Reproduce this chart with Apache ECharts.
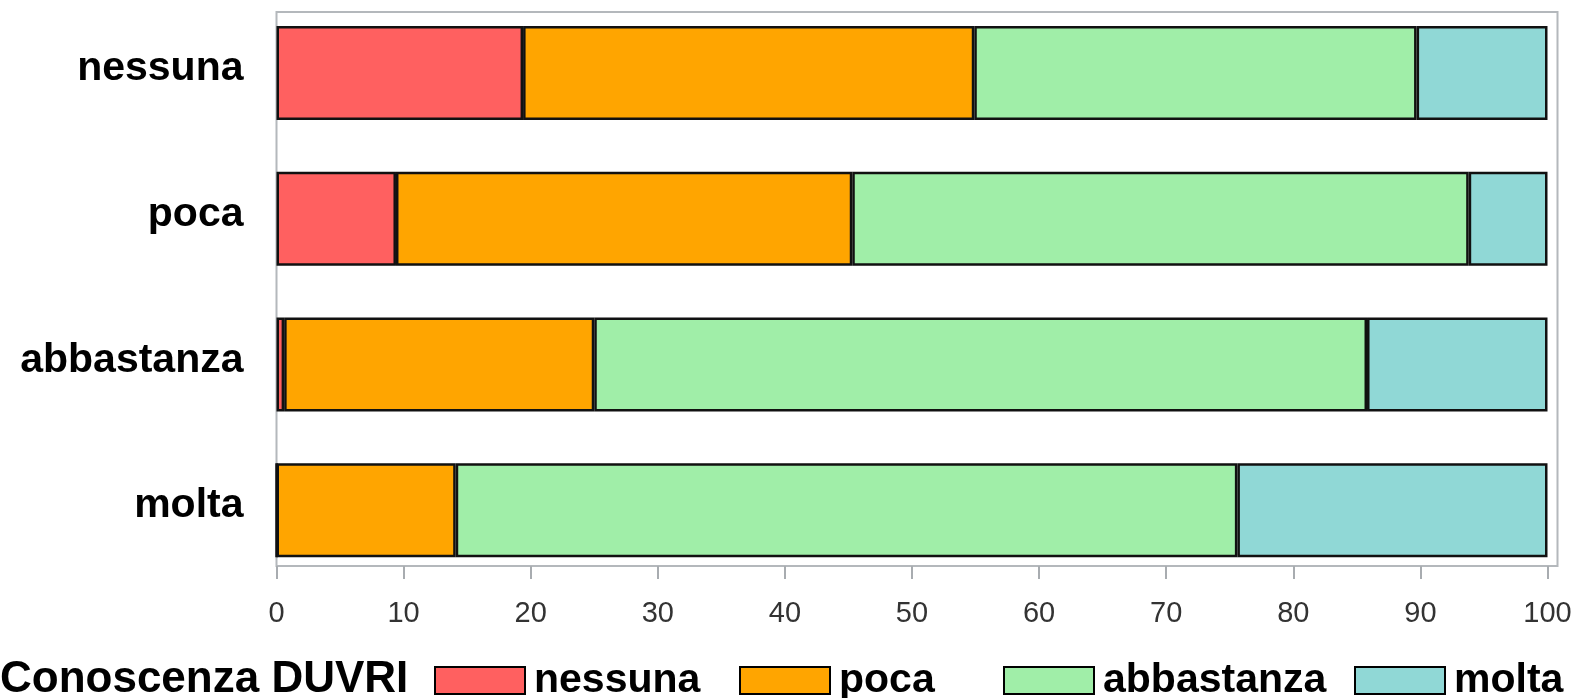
<!DOCTYPE html>
<html>
<head>
<meta charset="utf-8">
<script src="https://cdn.jsdelivr.net/npm/echarts@6/dist/echarts.min.js"></script>
<style>
html,body{margin:0;padding:0;background:#fff;}
#chart{width:1581px;height:698px;}
</style>
</head>
<body>
<div id="chart"></div>
<script>
// Categories (y axis, top to bottom)
const categories = ['nessuna', 'poca', 'abbastanza', 'molta'];
// Series (legend groups)
const seriesNames = ['nessuna', 'poca', 'abbastanza', 'molta'];
const valNessuna    = [19.4, 9.4, 0.6, 0];
const valPoca       = [35.5, 35.9, 24.4, 14.1];
const valAbbastanza = [34.8, 48.5, 60.8, 61.5];
const valMolta      = [10.3, 6.2, 14.2, 24.4];
const legendTitle = 'Conoscenza DUVRI';
const xMin = 0, xMax = 100, xInterval = 10;

const colors = ['#FF6060', '#FFA500', '#A0EEA8', '#90D8D6'];
const seriesValues = [valNessuna, valPoca, valAbbastanza, valMolta];
const legendLefts = [434, 739, 1003, 1354];

const chart = echarts.init(document.getElementById('chart'), null, {renderer: 'canvas'});

const FONT = 'Liberation Sans';

const option = {
  animation: false,
  backgroundColor: '#ffffff',
  grid: [
    {left: 276.5, top: -1, width: 1271, height: 584, show: false},
    {left: 276.5, top: 12, width: 1281, height: 554, show: true, borderColor: '#b4b8bc', borderWidth: 2, backgroundColor: 'transparent'}
  ],
  xAxis: [
    {
      gridIndex: 0, type: 'value', min: xMin, max: xMax, interval: xInterval,
      offset: -17,
      axisLine: {show: false},
      axisTick: {show: true, length: 13, lineStyle: {color: '#a8acb0', width: 2}},
      splitLine: {show: false},
      axisLabel: {fontFamily: FONT, fontSize: 29, color: '#333333', margin: 33}
    },
    {gridIndex: 1, type: 'value', show: false, min: 0, max: 1}
  ],
  yAxis: [
    {
      gridIndex: 0, type: 'category', data: categories, inverse: true,
      axisLine: {show: false}, axisTick: {show: false}, splitLine: {show: false},
      axisLabel: {fontFamily: FONT, fontSize: 41, fontWeight: 'bold', color: '#000000', margin: 33, verticalAlign: 'bottom', lineHeight: 8}
    },
    {gridIndex: 1, type: 'value', show: false, min: 0, max: 1}
  ],
  legend: seriesNames.map((n, i) => ({
    data: [n],
    left: legendLefts[i],
    top: 660,
    padding: 0,
    itemWidth: 90,
    itemHeight: 27,
    icon: 'rect',
    itemStyle: {borderColor: '#000000', borderWidth: 2},
    textStyle: {fontFamily: FONT, fontSize: 41, fontWeight: 'bold', color: '#000000', lineHeight: 41, padding: [0, 0, 0, 4]},
    selectedMode: false
  })),
  graphic: [
    {type: 'text', left: 0, top: 658, style: {text: legendTitle, fontFamily: FONT, fontSize: 44, fontWeight: 'bold', fill: '#000000'}}
  ],
  series: seriesNames.map((n, i) => ({
    name: n,
    type: 'bar',
    stack: 'total',
    xAxisIndex: 0, yAxisIndex: 0,
    barWidth: 94,
    data: seriesValues[i],
    itemStyle: {color: colors[i], borderColor: '#111111', borderWidth: 2.5},
    emphasis: {disabled: true}
  }))
};
chart.setOption(option);
</script>
</body>
</html>
